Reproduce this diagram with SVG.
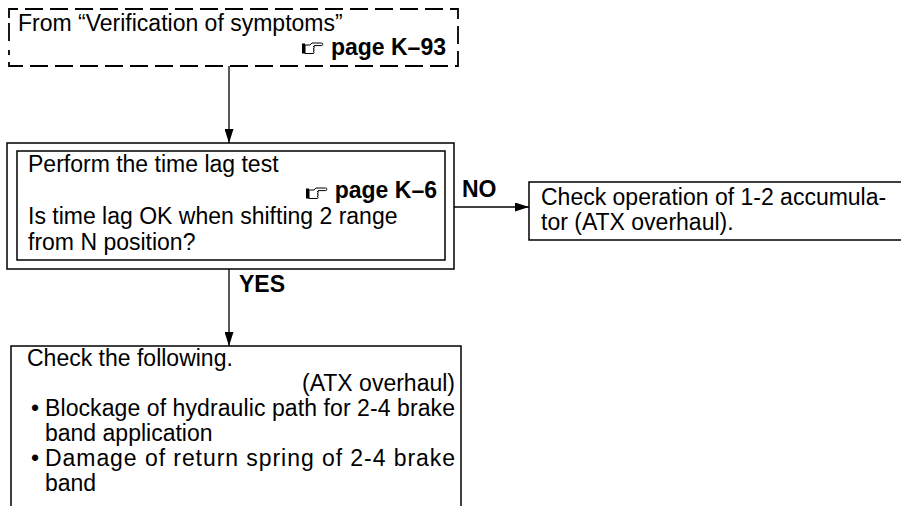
<svg xmlns="http://www.w3.org/2000/svg" width="901" height="506" viewBox="0 0 901 506">
<style>
.t{font-family:"Liberation Sans",Arial,sans-serif;font-size:23px;fill:#000}
.b{font-weight:bold}
.box{fill:#fff;stroke:#000;stroke-width:1.5}
.dash{fill:none;stroke:#000;stroke-width:1.8;stroke-dasharray:18 7}
.ln{fill:none;stroke:#000;stroke-width:1.3}
</style>
<defs>
<marker id="ah" viewBox="0 0 14 9" refX="14" refY="4.5" markerWidth="14" markerHeight="9" markerUnits="userSpaceOnUse" orient="auto">
<path d="M0,0 L14,4.5 L0,9 Z" fill="#000"/>
</marker>
<g id="hand">
<rect x="0" y="1.5" width="3" height="10" fill="#000"/>
<path d="M3,3 H8 L10,1 H19.5 a1.3,1.3 0 0 1 0,2.6 H12 M3,3 V11.5 H11 a1.1,1.1 0 0 0 0,-2.2 a1.1,1.1 0 0 0 0,-2.4 a1.1,1.1 0 0 0 0,-2.4 H12.5" fill="#fff" stroke="#000" stroke-width="1"/>
</g>
</defs>
<rect width="901" height="506" fill="#fff"/>
<g id="connectors">
<line class="ln" x1="229" y1="66" x2="229" y2="143" marker-end="url(#ah)"/>
<line class="ln" x1="454" y1="207" x2="529" y2="207" marker-end="url(#ah)"/>
<line class="ln" x1="229" y1="269" x2="229" y2="346" marker-end="url(#ah)"/>
<text class="t b" x="462" y="197">NO</text>
<text class="t b" x="239" y="292">YES</text>
</g>
<g id="start">
<path class="dash" d="M9,18 V9 H458 V66 H9 V50"/>
<path class="dash" d="M9,23 V45"/>
<text class="t" x="18" y="31">From “Verification of symptoms”</text>
<use href="#hand" x="302" y="42"/>
<text class="t b" x="446" y="55" text-anchor="end">page K–93</text>
</g>
<g id="decision">
<rect class="box" x="7" y="143" width="447" height="126" stroke-width="1.2"/>
<rect class="box" x="17" y="151" width="428" height="109"/>
<text class="t" x="28" y="172">Perform the time lag test</text>
<use href="#hand" x="306" y="187"/>
<text class="t b" x="437" y="198" text-anchor="end">page K–6</text>
<text class="t" x="28" y="224">Is time lag OK when shifting 2 range</text>
<text class="t" x="28" y="250">from N position?</text>
</g>
<g id="no-action">
<rect class="box" x="529" y="182" width="380" height="58"/>
<text class="t" x="541" y="205">Check operation of 1-2 accumula-</text>
<text class="t" x="541" y="230">tor (ATX overhaul).</text>
</g>
<g id="yes-action">
<rect class="box" x="11" y="346" width="450" height="170"/>
<text class="t" x="27" y="366">Check the following.</text>
<text class="t" x="455" y="391" text-anchor="end">(ATX overhaul)</text>
<text class="t" x="31" y="416">•</text>
<text class="t" x="45" y="416" textLength="410" lengthAdjust="spacing">Blockage of hydraulic path for 2-4 brake</text>
<text class="t" x="45" y="441">band application</text>
<text class="t" x="31" y="466">•</text>
<text class="t" x="45" y="466" textLength="410" lengthAdjust="spacing">Damage of return spring of 2-4 brake</text>
<text class="t" x="45" y="491">band</text>
</g>
</svg>
